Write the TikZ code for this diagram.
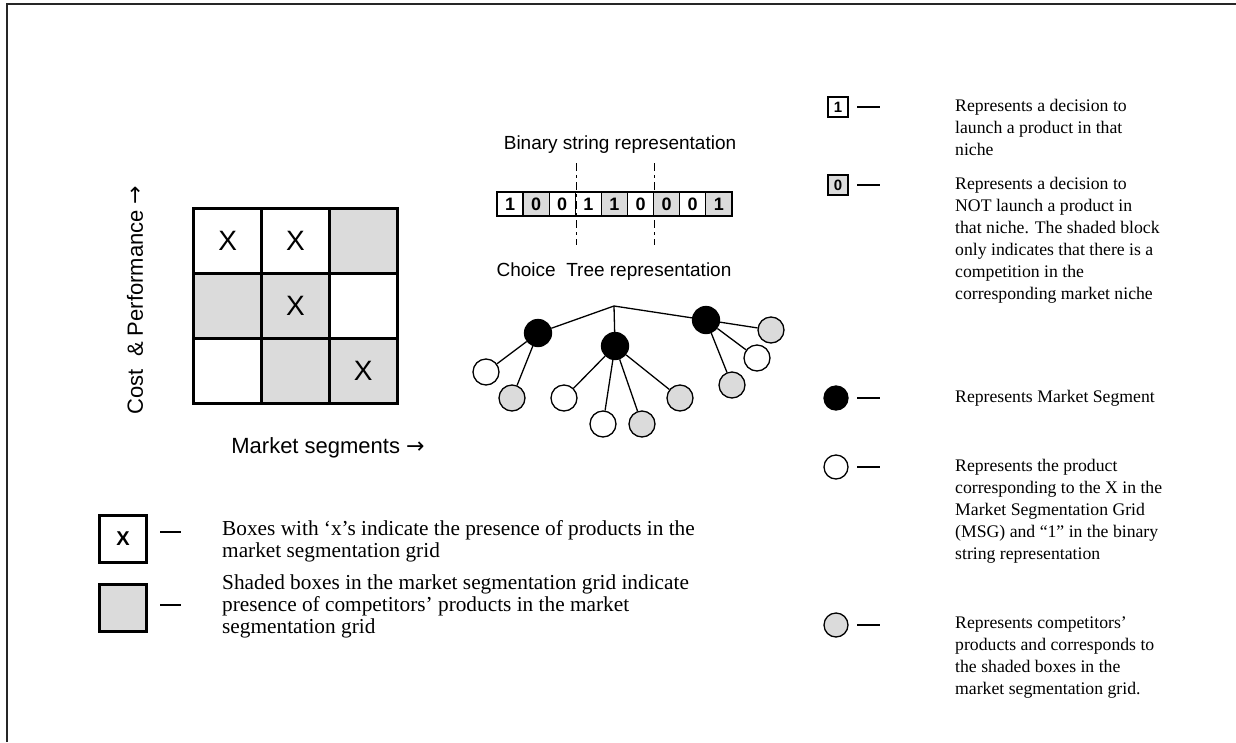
\documentclass[tikz,border=0pt]{standalone}
\usepackage{fontspec}
\setmainfont{Liberation Serif}
\newfontfamily\arialf{Liberation Sans}
\newfontfamily\dejavu{DejaVu Sans}
\begin{document}
\begin{tikzpicture}[x=1pt,y=-1pt,
  txt/.style={anchor=north west, align=left, inner sep=0pt, font=\fontsize{17.7}{22}\selectfont},
  ltxt/.style={anchor=north west, align=left, inner sep=0pt, font=\fontsize{21.3}{22}\selectfont},
  sanslab/.style={inner sep=0pt, font=\arialf\fontsize{22}{22}\selectfont},
  sanssmall/.style={inner sep=0pt, font=\arialf\fontsize{19}{20}\selectfont},
  cell/.style={draw, line width=3pt, minimum width=67.7pt, minimum height=65pt, inner sep=0pt, outer sep=0pt, font=\arialf\fontsize{28}{28}\selectfont},
  shaded/.style={fill=black!14},
  bit/.style={draw, line width=1.3pt, minimum width=26.1pt, minimum height=24pt, inner sep=0pt, outer sep=0pt, font=\arialf\bfseries\fontsize{18}{18}\selectfont},
  seg/.style={circle, fill=black, draw=black, line width=1.3pt, minimum size=27pt, inner sep=0pt},
  prod/.style={circle, fill=white, draw=black, line width=1.3pt, minimum size=26pt, inner sep=0pt},
  comp/.style={circle, fill=black!14, draw=black, line width=1.3pt, minimum size=26pt, inner sep=0pt},
  lseg/.style={seg, minimum size=24pt},
  lprod/.style={prod, minimum size=24pt},
  lcomp/.style={comp, minimum size=24pt},
  edge/.style={line width=1.3pt},
  legdash/.style={line width=1.5pt},
  legbox/.style={draw, line width=2.5pt, minimum size=47pt, inner sep=0pt, font=\arialf\bfseries\fontsize{20}{20}\selectfont},
  smallbox/.style={draw, line width=1.3pt, minimum size=20pt, inner sep=0pt, font=\arialf\bfseries\fontsize{15}{15}\selectfont},
  cutline/.style={line width=1pt, dash pattern=on 8pt off 4pt on 3pt off 4pt}
]
\useasboundingbox (0,0) rectangle (1236,742);
% frame (top and left only)
\draw[line width=2pt, black!85] (7,742) -- (7,4) -- (1236,4);

% axis labels
\node[sanslab, rotate=90] (ylab) at (135,300) {Cost\ \ \& Performance {\dejavu→}};
\node[sanslab] (xlab) at (328,448) {Market segments {\dejavu→}};

% grid
\node[cell] (g11) at (227.8,240.5) {X};
\node[cell] (g12) at (295.5,240.5) {X};
\node[cell,shaded] (g13) at (363.2,240.5) {};
\node[cell,shaded] (g21) at (227.8,305.5) {};
\node[cell,shaded] (g22) at (295.5,305.5) {X};
\node[cell] (g23) at (363.2,305.5) {};
\node[cell] (g31) at (227.8,370.5) {};
\node[cell,shaded] (g32) at (295.5,370.5) {};
\node[cell,shaded] (g33) at (363.2,370.5) {X};

% binary string
\node[sanssmall] (bintitle) at (620,145) {Binary string representation};
\coordinate (c1t) at (576.4,163);
\coordinate (c1b) at (576.4,245);
\coordinate (c2t) at (654.7,163);
\coordinate (c2b) at (654.7,245);
\draw[cutline] (c1t) -- (c1b);
\draw[cutline] (c2t) -- (c2b);
\node[bit] (b1) at (510.0,204) {1};
\node[bit,shaded] (b2) at (536.1,204) {0};
\node[bit] (b3) at (562.2,204) {0};
\node[bit] (b4) at (588.3,204) {1};
\node[bit,shaded] (b5) at (614.4,204) {1};
\node[bit] (b6) at (640.5,204) {0};
\node[bit,shaded] (b7) at (666.6,204) {0};
\node[bit] (b8) at (692.7,204) {0};
\node[bit,shaded] (b9) at (718.8,204) {1};

% choice tree
\node[sanssmall] (treetitle) at (614,272) {Choice\ \ Tree representation};
\coordinate (root) at (614,306);
\node[seg] (sL) at (538,333) {};
\node[seg] (sC) at (615,346) {};
\node[seg] (sR) at (706,320) {};
\node[prod] (pL1) at (486,372) {};
\node[comp] (pL2) at (512,398) {};
\node[prod] (pC1) at (564,398) {};
\node[prod] (pC2) at (603,424) {};
\node[comp] (pC3) at (642,424) {};
\node[comp] (pC4) at (680,398) {};
\node[comp] (pR1) at (771,330) {};
\node[prod] (pR2) at (757,358) {};
\node[comp] (pR3) at (732,385) {};
\draw[edge] (root) -- (sL);
\draw[edge] (root) -- (sC);
\draw[edge] (root) -- (sR);
\draw[edge] (sL) -- (pL1);
\draw[edge] (sL) -- (pL2);
\draw[edge] (sC) -- (pC1);
\draw[edge] (sC) -- (pC2);
\draw[edge] (sC) -- (pC3);
\draw[edge] (sC) -- (pC4);
\draw[edge] (sR) -- (pR1);
\draw[edge] (sR) -- (pR2);
\draw[edge] (sR) -- (pR3);

% left legend
\node[legbox] (lx) at (123,539) {X};
\coordinate (lxd1) at (160,532);
\coordinate (lxd2) at (181,532);
\draw[legdash] (lxd1) -- (lxd2);
\node[ltxt] (lxt) at (222,520) {Boxes with ‘x’s indicate the presence of products in the\\market segmentation grid};
\node[legbox,shaded] (ls) at (123,608) {};
\coordinate (lsd1) at (160,605);
\coordinate (lsd2) at (181,605);
\draw[legdash] (lsd1) -- (lsd2);
\node[ltxt] (lst) at (222,575) {Shaded boxes in the market segmentation grid indicate\\presence of competitors’ products in the market\\segmentation grid};

% right legend
\node[smallbox] (r1) at (838,107) {1};
\coordinate (r1d1) at (857,107);
\coordinate (r1d2) at (880,107);
\draw[legdash] (r1d1) -- (r1d2);
\node[txt] (r1t) at (955,99) {Represents a decision to\\launch a product in that\\niche};

\node[smallbox,shaded] (r0) at (838,185) {0};
\coordinate (r0d1) at (857,185);
\coordinate (r0d2) at (880,185);
\draw[legdash] (r0d1) -- (r0d2);
\node[txt] (r0t) at (955,177) {Represents a decision to\\NOT launch a product in\\that niche. The shaded block\\only indicates that there is a\\competition in the\\corresponding market niche};

\node[lseg] (rs) at (836,398) {};
\coordinate (rsd1) at (857,398);
\coordinate (rsd2) at (880,398);
\draw[legdash] (rsd1) -- (rsd2);
\node[txt] (rst) at (955,390) {Represents Market Segment};

\node[lprod] (rp) at (836,467) {};
\coordinate (rpd1) at (857,467);
\coordinate (rpd2) at (880,467);
\draw[legdash] (rpd1) -- (rpd2);
\node[txt] (rpt) at (955,459) {Represents the product\\corresponding to the X in the\\Market Segmentation Grid\\(MSG) and “1” in the binary\\string representation};

\node[lcomp] (rc) at (836,625) {};
\coordinate (rcd1) at (857,625);
\coordinate (rcd2) at (880,625);
\draw[legdash] (rcd1) -- (rcd2);
\node[txt] (rct) at (955,617) {Represents competitors’\\products and corresponds to\\the shaded boxes in the\\market segmentation grid.};
\end{tikzpicture}
\end{document}
